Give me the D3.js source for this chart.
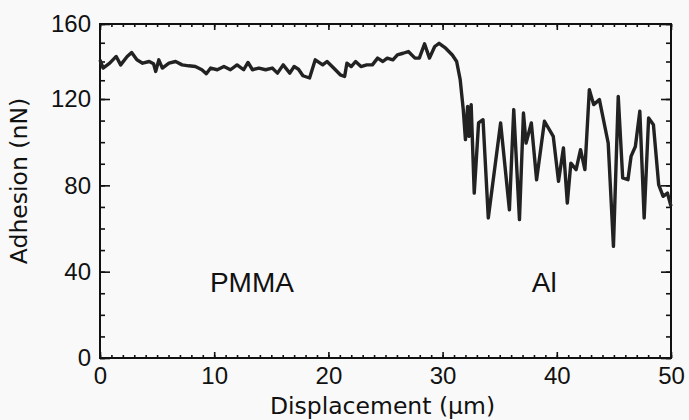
<!DOCTYPE html>
<html lang="en">
<head>
<meta charset="utf-8">
<title>Adhesion vs displacement</title>
<style>
body { margin: 0; background: #f9f9f9; }
svg { display: block; }
.axis text { font-family: "Liberation Sans", Arial, sans-serif; font-size: 24px; fill: #111; }
.axis path, .axis line { stroke: #111; stroke-width: 1.6; }
.label { font-family: "DejaVu Sans", sans-serif; font-size: 23.5px; fill: #111; }
.region { font-family: "Liberation Sans", Arial, sans-serif; font-size: 28px; fill: #111; }
.trace { fill: none; stroke: #222; stroke-width: 3.4; stroke-linejoin: round; }
</style>
</head>
<body>
<div id="chart"></div>
<script src="https://d3js.org/d3.v7.min.js"></script>
<script>
  // displacement (um) and adhesion (nN)
  var displacement = [0, 0.27, 0.85, 1.42, 1.81, 2.38, 2.77, 3.23, 3.73, 4.31, 4.69, 4.88, 5.15, 5.46,
    6.04, 6.62, 7.19, 7.77, 8.35, 8.92, 9.31, 9.69, 10.27, 10.85, 11.42, 12.0, 12.58, 12.96, 13.35,
    13.92, 14.5, 15.08, 15.54, 16.04, 16.62, 17.0, 17.38, 17.77, 18.35, 18.85, 19.5, 19.88, 20.46,
    21.04, 21.42, 21.62, 22.0, 22.38, 22.85, 23.35, 23.85, 24.31, 24.77, 25.15, 25.65, 26.04, 26.54,
    27.0, 27.58, 27.96, 28.42, 28.85, 29.31, 29.69, 30.27, 30.85, 31.23, 31.54,
    31.81, 32.0, 32.19, 32.31, 32.5, 32.77, 33.15, 33.54, 34.0, 35.08, 35.85, 36.23, 36.73, 37.08,
    37.31, 37.77, 38.23, 38.92, 39.69, 40.15, 40.58, 40.92, 41.23, 41.69, 42.08, 42.46, 42.85, 43.23,
    43.73, 44.5, 44.96, 45.38, 45.77, 46.23, 46.5, 46.88, 47.27, 47.65, 48.04, 48.46, 48.92, 49.31,
    49.69, 50];
  var adhesion = [140.9, 136.5, 139.1, 142.7, 138.2, 142.7, 144.8, 140.9, 139.1, 140.0, 138.8, 134.7,
    140.9, 136.5, 139.1, 140.0, 138.2, 137.7, 137.3, 135.6, 133.5, 136.5, 135.6, 137.3, 135.6, 138.2,
    135.6, 139.5, 135.6, 136.5, 135.6, 136.5, 133.8, 138.2, 133.8, 137.3, 135.9, 132.4, 131.2, 140.9,
    138.2, 140.0, 136.5, 132.9, 132.0, 139.1, 137.3, 140.0, 137.3, 138.2, 138.2, 141.8, 140.0, 141.8,
    140.9, 143.5, 144.4, 145.3, 141.8, 141.8, 149.4, 141.8, 148.0, 149.7, 147.1, 143.5, 140.0, 130.3,
    115.1, 101.2, 116.6, 102.7, 117.4, 76.4, 108.9, 110.4, 64.9, 108.9, 68.7, 115.1, 64.1, 113.5,
    99.6, 108.9, 82.6, 109.7, 102.7, 81.9, 97.3, 71.8, 90.3, 87.3, 96.5, 87.3, 125.0, 117.4,
    119.7, 99.6, 51.7, 121.4, 83.4, 82.6, 93.4, 98.0, 114.3, 64.9, 111.2, 108.1, 80.3, 74.9,
    76.4, 70.3];

  var xTicks = [0, 10, 20, 30, 40, 50];
  var yTicks = [0, 40, 80, 120, 160];
  var regions = ["PMMA", "Al"];

  var W = 689, H = 420;
  var mLeft = 100, mRight = 671, mTop = 24, mBottom = 358;

  var svg = d3.select("#chart").append("svg")
    .attr("width", W)
    .attr("height", H);

  var x = d3.scaleLinear().domain([0, 50]).range([mLeft, mRight]);
  // the scanned figure is slightly squeezed near the top
  var y = d3.scaleLinear().domain([0, 120, 160]).range([mBottom, 99, mTop]);

  var xMinor = d3.range(0, 51, 1);
  var yMinor = d3.range(0, 161, 10);

  // minor ticks, all four sides, pointing inward
  svg.append("g").attr("class", "axis")
    .attr("transform", "translate(0," + mBottom + ")")
    .call(d3.axisBottom(x).tickValues(xMinor).tickSize(-3).tickFormat(""))
    .select(".domain").remove();
  svg.append("g").attr("class", "axis")
    .attr("transform", "translate(0," + mTop + ")")
    .call(d3.axisTop(x).tickValues(xMinor).tickSize(-3).tickFormat(""))
    .select(".domain").remove();
  svg.append("g").attr("class", "axis")
    .attr("transform", "translate(" + mLeft + ",0)")
    .call(d3.axisLeft(y).tickValues(yMinor).tickSize(-5).tickFormat(""))
    .select(".domain").remove();
  svg.append("g").attr("class", "axis")
    .attr("transform", "translate(" + mRight + ",0)")
    .call(d3.axisRight(y).tickValues(yMinor).tickSize(-5).tickFormat(""))
    .select(".domain").remove();

  // major ticks with labels
  svg.append("g").attr("class", "axis")
    .attr("transform", "translate(0," + mBottom + ")")
    .call(d3.axisBottom(x).tickValues(xTicks).tickSize(-6).tickPadding(9).tickFormat(d3.format("d")))
    .select(".domain").remove();

  svg.append("g").attr("class", "axis")
    .attr("transform", "translate(0," + mTop + ")")
    .call(d3.axisTop(x).tickValues(xTicks).tickSize(-6).tickFormat(""))
    .select(".domain").remove();

  svg.append("g").attr("class", "axis")
    .attr("transform", "translate(" + mLeft + ",0)")
    .call(d3.axisLeft(y).tickValues(yTicks).tickSize(-10).tickPadding(9).tickFormat(d3.format("d")))
    .select(".domain").remove();

  svg.append("g").attr("class", "axis")
    .attr("transform", "translate(" + mRight + ",0)")
    .call(d3.axisRight(y).tickValues(yTicks).tickSize(-10).tickFormat(""))
    .select(".domain").remove();

  // frame
  svg.append("rect")
    .attr("x", mLeft).attr("y", mTop)
    .attr("width", mRight - mLeft).attr("height", mBottom - mTop)
    .attr("fill", "none").attr("stroke", "#111").attr("stroke-width", 2);

  var line = d3.line()
    .x(function(d, i) { return x(displacement[i]); })
    .y(function(d) { return y(d); });

  svg.append("path")
    .datum(adhesion)
    .attr("class", "trace")
    .attr("d", line);

  svg.selectAll(".region")
    .data(regions)
    .enter().append("text")
    .attr("class", "region")
    .attr("x", function(d, i) { return i === 0 ? x(13.3) : x(38.9); })
    .attr("y", y(40) + 20)
    .attr("text-anchor", "middle")
    .text(function(d) { return d; });

  svg.append("text")
    .attr("class", "label")
    .attr("x", (mLeft + mRight) / 2 - 3)
    .attr("y", 414)
    .attr("text-anchor", "middle")
    .text("Displacement (\u03bcm)");

  svg.append("text")
    .attr("class", "label")
    .attr("transform", "translate(27,181) rotate(-90)")
    .attr("text-anchor", "middle")
    .text("Adhesion (nN)");
</script>
</body>
</html>
